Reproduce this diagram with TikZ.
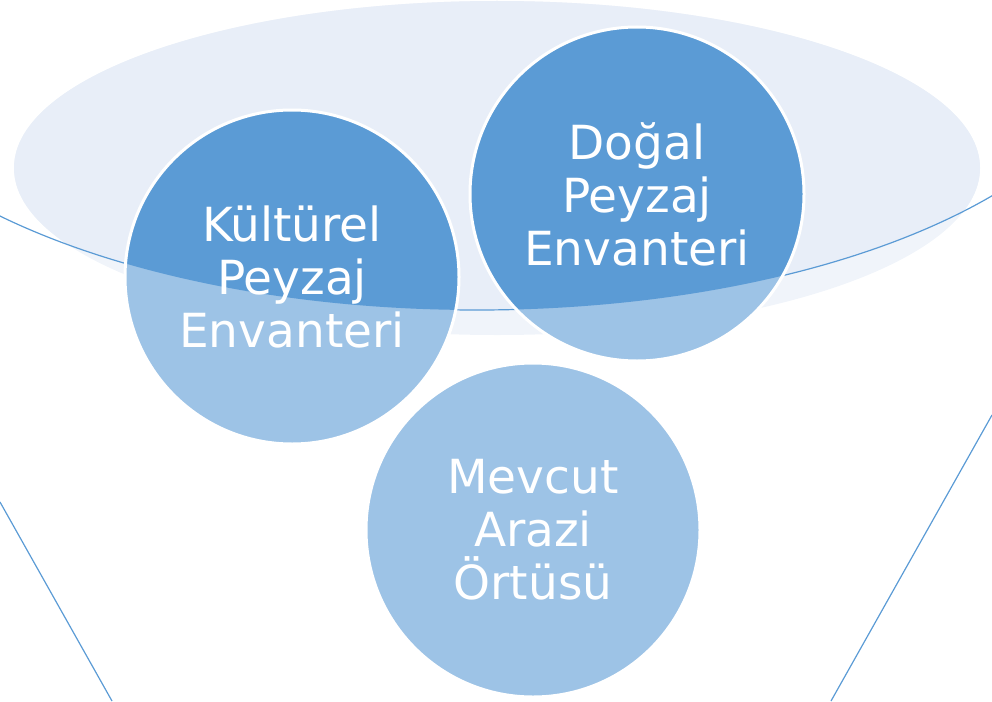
\documentclass[tikz,border=0pt]{standalone}
\usepackage{fontspec}
\setmainfont{DejaVu Sans}
\definecolor{funnelblue}{HTML}{5B9BD5}
\definecolor{paleblue}{HTML}{9DC3E6}
\definecolor{rimtop}{HTML}{E8EEF8}
\definecolor{rimlow}{HTML}{F0F4FA}

\begin{document}
\begin{tikzpicture}[x=1pt, y=-1pt,
  bubble/.style={circle, draw=white, line width=3pt, fill=paleblue, minimum size=334pt, inner sep=0pt, align=center, text=white, font=\fontsize{47}{53}\selectfont,
    path picture={\fill[funnelblue] (rim) ellipse [x radius=650pt, y radius=293pt];}},
  edge line/.style={funnelblue, line width=1.2pt}]

\useasboundingbox (0,0) rectangle (992,701);
\coordinate (rim) at (477,17);

% opening of the funnel
\fill[rimlow] (497,168) ellipse [x radius=483pt, y radius=167pt];
\begin{scope}
\clip (rim) ellipse [x radius=650pt, y radius=293pt];
\fill[rimtop] (497,168) ellipse [x radius=483pt, y radius=167pt];
\end{scope}

\begin{scope}
\clip (0,0) rectangle (992,701);
\draw[edge line] (rim) ellipse [x radius=650pt, y radius=293pt];
\draw[edge line] (0,502) -- (112,701);
\draw[edge line] (992,415) -- (831,701);
\end{scope}

\node[bubble] (kulturel) at (292,277) {Kültürel\\Peyzaj\\Envanteri};
\node[bubble] (dogal) at (637,194) {Doğal\\Peyzaj\\Envanteri};
\node[bubble] (mevcut) at (533,530) {Mevcut\\Arazi\\Örtüsü};

\end{tikzpicture}
\end{document}
